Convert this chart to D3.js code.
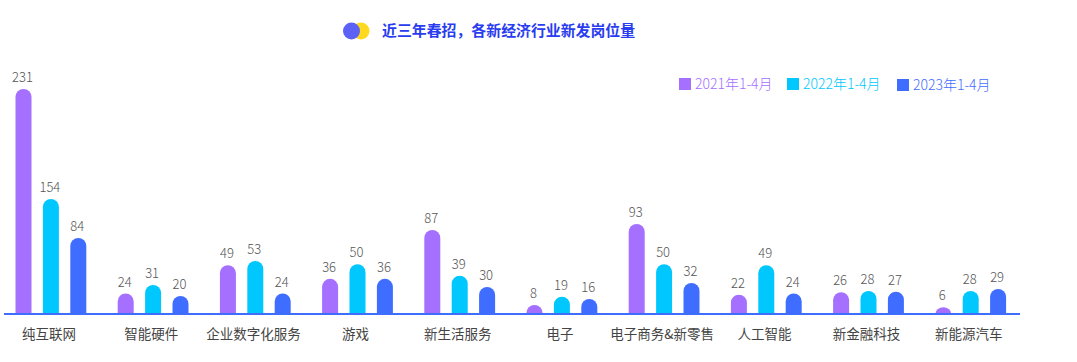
<!DOCTYPE html>
<html>
<head>
<meta charset="utf-8">
<script src="https://cdn.jsdelivr.net/npm/d3@7"></script>
<style>
  html, body { margin: 0; padding: 0; background: #fff; }
  text { font-family: "Noto Sans CJK SC", "Noto Sans", sans-serif; }
</style>
</head>
<body>
<div id="chart"></div>
<script>
const titleText = "近三年春招，各新经济行业新发岗位量";
const categories = ["纯互联网", "智能硬件", "企业数字化服务", "游戏", "新生活服务", "电子", "电子商务&新零售", "人工智能", "新金融科技", "新能源汽车"];
const seriesNames = ["2021年1-4月", "2022年1-4月", "2023年1-4月"];
const values2021 = [231, 24, 49, 36, 87, 8, 93, 22, 26, 6];
const values2022 = [154, 31, 53, 50, 39, 19, 50, 49, 28, 28];
const values2023 = [84, 20, 24, 36, 30, 16, 32, 24, 27, 29];
const colors = ["#a56fff", "#00c8ff", "#3f6dff"];

const width = 1077, height = 362;
const baseY = 314;

const svg = d3.select("#chart")
    .append("svg")
    .attr("width", width)
    .attr("height", height)
    .style("display", "block");

// the source bars are not on a straight scale, so this one is bent to follow them
const yScale = d3.scaleLinear()
    .domain([0, 8, 20, 28, 32, 53, 84, 87, 93, 154, 231])
    .range([0, 9, 18, 23, 31, 53, 76, 84, 90, 115, 225].map(function(h) { return baseY - h; }));

const xScale = d3.scaleBand()
    .domain(categories)
    .range([-0.6, 1021.4]);

const xInner = d3.scaleBand()
    .domain(d3.range(3))
    .range([10.4, 92.6]);

const barWidth = 16;
const allValues = [values2021, values2022, values2023];

// title
svg.append("circle").attr("cx", 361).attr("cy", 31).attr("r", 8.5).attr("fill", "#ffd91f");
svg.append("circle").attr("cx", 351.5).attr("cy", 31).attr("r", 8.5).attr("fill", "#5b62f5");
svg.append("text")
    .attr("x", 382)
    .attr("y", 36)
    .attr("font-size", 14.9)
    .attr("font-weight", 700)
    .attr("fill", "#2a3cf0")
    .text(titleText);

// legend
const legendX = [679, 787, 897];
const legendY = [84, 84, 85];
seriesNames.forEach(function(name, i) {
    svg.append("rect")
        .attr("x", legendX[i])
        .attr("y", legendY[i] - 6)
        .attr("width", 12)
        .attr("height", 12)
        .attr("fill", colors[i]);
    svg.append("text")
        .attr("x", legendX[i] + 16)
        .attr("y", legendY[i] + 5)
        .attr("font-size", 14)
        .attr("font-weight", 300)
        .attr("fill", colors[i])
        .text(name);
});

// bars, round on top only
function barPath(x, y0, y1, w) {
    const rx = w / 2;
    const ry = Math.min(rx, y0 - y1);
    return "M" + x + "," + y0 +
        "V" + (y1 + ry) +
        "A" + rx + "," + ry + " 0 0 1 " + (x + w) + "," + (y1 + ry) +
        "V" + y0 + "Z";
}

allValues.forEach(function(series, s) {
    const bx = function(i) {
        return xScale(categories[i]) + xInner(s) + xInner.bandwidth() / 2 - barWidth / 2;
    };
    svg.append("g")
        .selectAll("path")
        .data(series)
        .join("path")
        .attr("fill", colors[s])
        .attr("d", function(d, i) { return barPath(bx(i), baseY, yScale(d), barWidth); });

    svg.append("g")
        .selectAll("text")
        .data(series)
        .join("text")
        .attr("x", function(d, i) { return bx(i) + barWidth / 2 - 1; })
        .attr("y", function(d) { return yScale(d) - 7; })
        .attr("text-anchor", "middle")
        .attr("font-size", 13)
        .attr("font-weight", 300)
        .attr("fill", "#555")
        .text(function(d) { return d; });
});

// axis line
svg.append("line")
    .attr("x1", 4)
    .attr("x2", 1020)
    .attr("y1", baseY)
    .attr("y2", baseY)
    .attr("stroke", "#3f6dff")
    .attr("stroke-width", 2);

// category labels
svg.append("g")
    .selectAll("text")
    .data(categories)
    .join("text")
    .attr("x", function(d) { return xScale(d) + xScale.bandwidth() / 2 - 1.5; })
    .attr("y", 339)
    .attr("text-anchor", "middle")
    .attr("font-size", 13.5)
    .attr("font-weight", 400)
    .attr("fill", "#444")
    .text(function(d) { return d; });
</script>
</body>
</html>
